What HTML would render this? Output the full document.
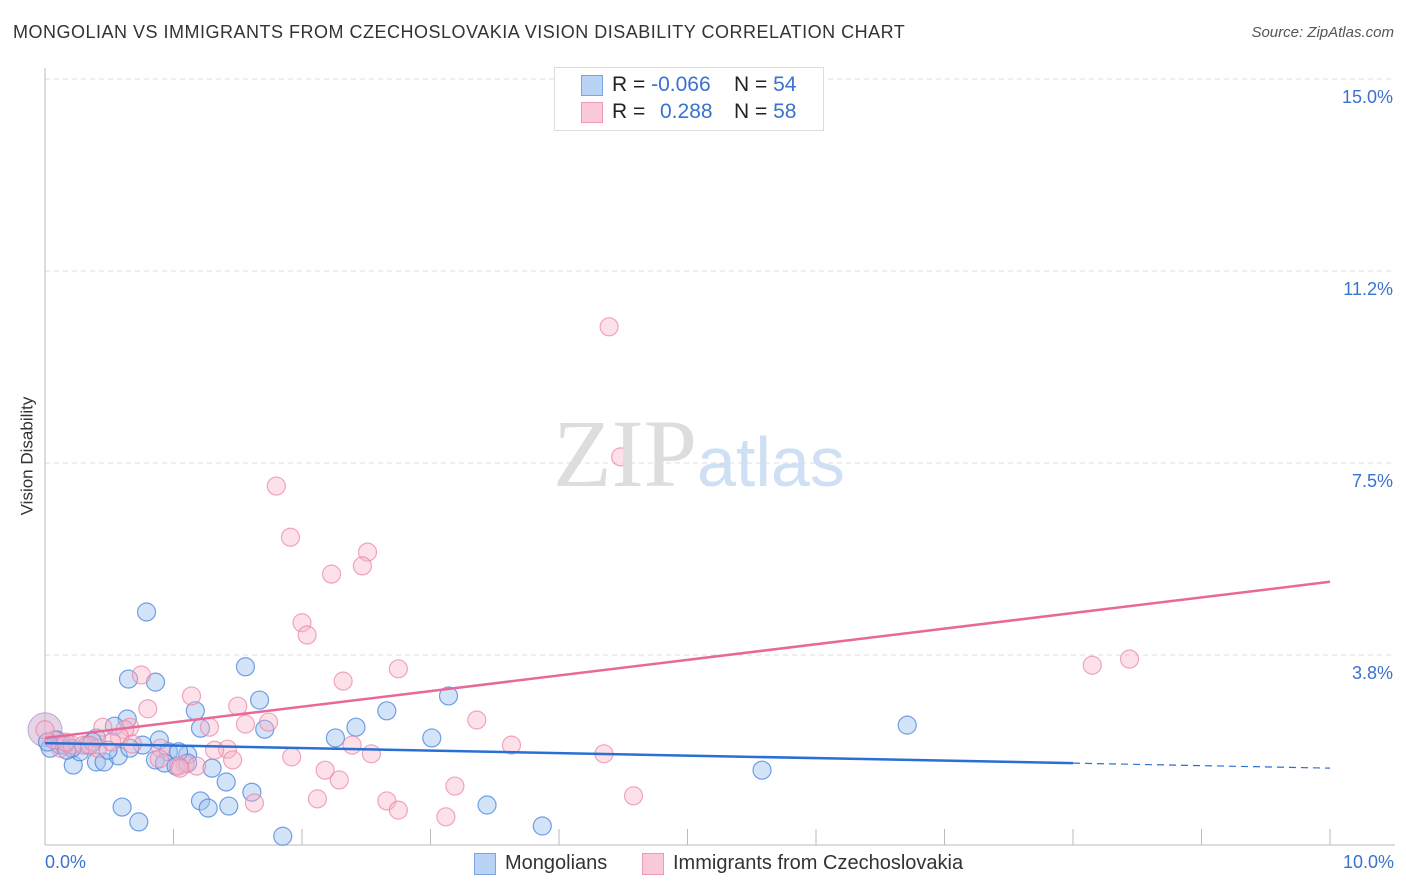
<!DOCTYPE html>
<html><head><meta charset="utf-8"><style>
body{margin:0;background:#fff;font-family:"Liberation Sans",sans-serif;}
#wrap{position:relative;width:1406px;height:892px;overflow:hidden;}
.t{position:absolute;white-space:nowrap;}
</style></head><body><div id="wrap">
<div class="t" style="left:13px;top:22px;font-size:18px;letter-spacing:0.5px;color:#333;">MONGOLIAN VS IMMIGRANTS FROM CZECHOSLOVAKIA VISION DISABILITY CORRELATION CHART</div>
<div class="t" style="right:12px;top:24px;font-size:15px;color:#555;font-style:italic;">Source: ZipAtlas.com</div>
<div class="t" style="left:-32px;top:446px;font-size:17px;color:#333;transform:rotate(-90deg);">Vision Disability</div>
<svg id="plot" width="1406" height="892" style="position:absolute;left:0;top:0"></svg>
<div style="position:absolute;left:554px;top:67px;width:268px;height:62px;border:1px solid #ddd;background:#fff;"></div>
<div style="position:absolute;left:581px;top:75px;width:20px;height:19px;background:#b9d3f5;border:1px solid #7aa5e3;"></div>
<div style="position:absolute;left:581px;top:102px;width:20px;height:19px;background:#f9c9d8;border:1px solid #ef9ab6;"></div>
<div class="t" style="left:612px;top:73px;font-size:21px;color:#222;">R = <span style="color:#3a72d0">-0.066</span></div>
<div class="t" style="left:734px;top:73px;font-size:21px;color:#222;">N = <span style="color:#3a72d0">54</span></div>
<div class="t" style="left:612px;top:100px;font-size:21px;color:#222;">R = <span style="position:absolute;left:48px;color:#3a72d0">0.288</span></div>
<div class="t" style="left:734px;top:100px;font-size:21px;color:#222;">N = <span style="color:#3a72d0">58</span></div>
<div class="t" style="left:553px;top:398px;font-size:96px;font-family:'Liberation Serif',serif;color:#ddd;">ZIP<span style="font-family:'Liberation Sans',sans-serif;color:#cfe0f5;font-size:70px;">atlas</span></div>
<div class="t" style="left:45px;top:852px;font-size:18px;color:#3a72d0;">0.0%</div>
<div class="t" style="right:12px;top:852px;font-size:18px;color:#3a72d0;">10.0%</div>
<div style="position:absolute;left:474px;top:853px;width:20px;height:20px;background:#b9d3f5;border:1px solid #7aa5e3;"></div>
<div class="t" style="left:505px;top:852px;font-size:20px;color:#333;">Mongolians</div>
<div style="position:absolute;left:642px;top:853px;width:20px;height:20px;background:#f9c9d8;border:1px solid #ef9ab6;"></div>
<div class="t" style="left:673px;top:852px;font-size:20px;color:#333;">Immigrants from Czechoslovakia</div>
</div>
<script>
const yTicks=[15.0,11.25,7.5,3.75];
const yTickLabels=["15.0%","11.2%","7.5%","3.8%"];
const xTicks=[0,1,2,3,4,5,6,7,8,9,10];
const blueX=[0.79,0.65,0.86,1.56,1.67,1.17,0.64,0.54,1.71,2.42,2.66,3.14,3.01,2.26,0.89,0.76,0.40,0.33,0.09,0.04,0.12,0.22,0.40,0.46,0.57,0.27,0.96,1.11,0.86,0.93,1.02,1.30,1.11,1.41,1.61,1.21,1.27,1.43,0.60,0.73,1.85,3.44,3.87,5.58,6.71,0.15,0.02,0.49,0.21,0.66,1.04,1.21,0.17,0.37];
const blueY=[4.59,3.28,3.22,3.52,2.87,2.66,2.50,2.36,2.30,2.34,2.66,2.95,2.13,2.13,2.09,1.99,2.13,1.99,2.09,1.93,1.99,1.60,1.66,1.66,1.78,1.86,1.86,1.80,1.70,1.64,1.58,1.54,1.64,1.27,1.07,0.90,0.76,0.80,0.78,0.49,0.21,0.82,0.41,1.50,2.38,1.99,2.05,1.89,1.93,1.93,1.86,2.32,1.89,2.05];
const pinkX=[4.39,4.48,1.80,1.91,2.51,2.23,2.47,2.00,2.04,8.15,8.44,0.75,2.75,2.32,1.14,0.80,1.50,3.36,1.74,1.56,1.28,0.66,0.45,0.62,0.58,3.63,2.39,4.35,2.54,1.92,1.42,1.32,0.90,0.68,0.12,0.21,0.30,0.41,0.89,1.09,1.18,1.04,1.46,2.18,2.29,3.19,4.58,2.12,1.63,2.66,2.75,3.12,0.07,0.00,0.35,0.16,0.52,1.05];
const pinkY=[10.16,7.62,7.05,6.05,5.76,5.33,5.49,4.38,4.14,3.55,3.67,3.36,3.48,3.24,2.95,2.70,2.75,2.48,2.44,2.40,2.34,2.34,2.34,2.29,2.15,1.99,1.99,1.82,1.82,1.76,1.91,1.89,1.93,2.01,1.93,1.99,1.99,1.93,1.72,1.62,1.58,1.58,1.70,1.50,1.31,1.19,1.00,0.94,0.86,0.90,0.72,0.59,2.09,2.29,1.99,2.05,2.05,1.54];
const blueTrend=[2.03,1.54]; const blueSolidEnd=8;
const pinkTrend=[2.13,5.18];
const X=v=>45+v*128.5, Y=v=>847-v*51.2;
const svg=document.getElementById('plot'), NS='http://www.w3.org/2000/svg';
function mk(tag,a){const e=document.createElementNS(NS,tag);for(const k in a)e.setAttribute(k,a[k]);svg.appendChild(e);return e;}
yTicks.forEach((v,i)=>{
 const g=mk('line',{x1:45,x2:1395,y1:Y(v),y2:Y(v),stroke:'#ddd','stroke-dasharray':'5,4'});
 
 
 const t=mk('text',{x:1393,y:Y(v)+24,'text-anchor':'end','font-size':18,fill:'#3a72d0','font-family':'Liberation Sans, sans-serif'});
 t.textContent=yTickLabels[i];
 
 
});
let a=mk('line',{x1:45,x2:45,y1:68,y2:845,stroke:'#bbb'});


a=mk('line',{x1:45,x2:1395,y1:845,y2:845,stroke:'#bbb'});


xTicks.forEach(v=>{const t=mk('line',{x1:X(v),x2:X(v),y1:829,y2:845,stroke:'#bbb'});
 
 });
let big=mk('circle',{cx:X(0),cy:Y(2.29),r:17,fill:'rgba(200,170,210,0.5)',stroke:'rgba(170,140,200,0.7)'});


blueX.forEach((x,i)=>{const c=mk('circle',{cx:X(x),cy:Y(blueY[i]),r:9,fill:'rgba(160,195,240,0.45)',stroke:'rgba(70,130,220,0.75)','stroke-width':1.2});
 
 });
pinkX.forEach((x,i)=>{const c=mk('circle',{cx:X(x),cy:Y(pinkY[i]),r:9,fill:'rgba(248,180,200,0.4)',stroke:'rgba(235,130,165,0.7)','stroke-width':1.2});
 
 });
const by=x=>blueTrend[0]+(blueTrend[1]-blueTrend[0])*x/10;
let l=mk('line',{x1:X(0),y1:Y(by(0)),x2:X(blueSolidEnd),y2:Y(by(blueSolidEnd)),stroke:'#2a6fd4','stroke-width':2.5});


l=mk('line',{x1:X(blueSolidEnd),y1:Y(by(blueSolidEnd)),x2:X(10),y2:Y(by(10)),stroke:'#2a6fd4','stroke-width':1.2,'stroke-dasharray':'7,5'});


l=mk('line',{x1:X(0),y1:Y(pinkTrend[0]),x2:X(10),y2:Y(pinkTrend[1]),stroke:'#e8689a','stroke-width':2.5});


</script></body></html>
